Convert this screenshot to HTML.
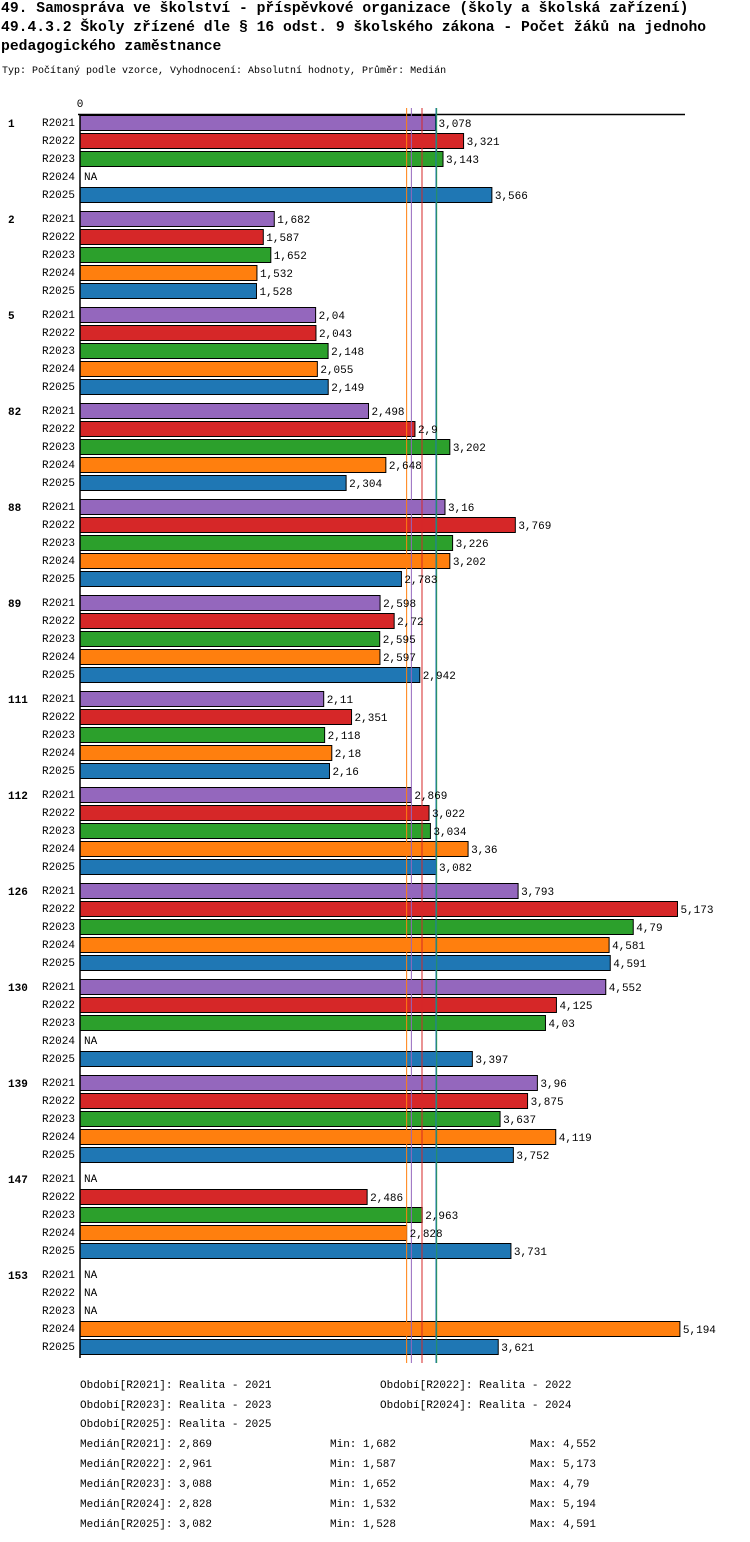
<!DOCTYPE html>
<html><head><meta charset="utf-8"><style>
body{margin:0;background:#fff;width:750px;height:1542px;overflow:hidden;font-family:"Liberation Mono","DejaVu Sans Mono",monospace;}
.t{position:absolute;left:1px;font-size:14.7px;font-weight:bold;line-height:19px;white-space:nowrap}
.s{position:absolute;left:2px;top:66px;font-size:10px}
svg text{font-family:"Liberation Mono","DejaVu Sans Mono",monospace;font-size:11px}
</style></head><body>
<div class="t" style="top:0">49. Samospráva ve školství - příspěvkové organizace (školy a školská zařízení)<br>49.4.3.2 Školy zřízené dle § 16 odst. 9 školského zákona - Počet žáků na jednoho<br>pedagogického zaměstnance</div>
<div class="s">Typ: Počítaný podle vzorce, Vyhodnocení: Absolutní hodnoty, Průměr: Medián</div>
<svg id="c" width="750" height="1542" style="position:absolute;left:0;top:0"></svg>
<script>
const groups=["1","2","5","82","88","89","111","112","126","130","139","147","153"];
const series=["R2021","R2022","R2023","R2024","R2025"];
const colors=["#9467bd","#d62728","#2ca02c","#ff7f0e","#1f77b4"];
const v2021=[3.078,1.682,2.04,2.498,3.16,2.598,2.11,2.869,3.793,4.552,3.96,null,null];
const v2022=[3.321,1.587,2.043,2.9,3.769,2.72,2.351,3.022,5.173,4.125,3.875,2.486,null];
const v2023=[3.143,1.652,2.148,3.202,3.226,2.595,2.118,3.034,4.79,4.03,3.637,2.963,null];
const v2024=[null,1.532,2.055,2.648,3.202,2.597,2.18,3.36,4.581,null,4.119,2.828,5.194];
const v2025=[3.566,1.528,2.149,2.304,2.783,2.942,2.16,3.082,4.591,3.397,3.752,3.731,3.621];
const medians=[2.869,2.961,3.088,2.828,3.082];
const mins=[1.682,1.587,1.652,1.532,1.528];
const maxs=[4.552,5.173,4.79,5.194,4.591];
const vals=[v2021,v2022,v2023,v2024,v2025];
const svg=document.getElementById('c');const NS='http://www.w3.org/2000/svg';
const x=v=>80+v*115.5;
const rowY=(g,i)=>115+g*96+i*18;
function mk(t,a,txt){const e=document.createElementNS(NS,t);for(const k in a)e.setAttribute(k,a[k]);if(txt!=null)e.textContent=txt;svg.appendChild(e);return e;}
const fmt=v=>String(v).replace('.',',');
let e;
e=mk('line',{x1:78,y1:114.5,x2:685,y2:114.5,stroke:'#000','stroke-width':1.5});


e=mk('text',{x:80,y:107,'text-anchor':'middle','font-size':10},'0');


groups.forEach((g,gi)=>{
 e=mk('text',{x:8,y:rowY(gi,0)+12,'font-weight':'bold'},g);
 
 
 series.forEach((s,si)=>{
  const y=rowY(gi,si);const v=vals[si][gi];
  e=mk('text',{x:75,y:y+11,'text-anchor':'end','font-size':10},s);
  
  
  if(v==null){e=mk('text',{x:84,y:y+11,'font-size':10},'NA');
   
   return;}
  e=mk('rect',{x:80,y:y+0.5,width:x(v)-80,height:15,fill:colors[si],stroke:'#000','stroke-width':1});
  
  
 });
});
e=mk('line',{x1:80,y1:114,x2:80,y2:1358,stroke:'#000','stroke-width':1.5});


[2,3,0,1,4].forEach(si=>{
 e=mk('line',{x1:x(medians[si]),y1:108,x2:x(medians[si]),y2:1363,stroke:colors[si],'stroke-width':1});
 
 
});
groups.forEach((g,gi)=>{series.forEach((s,si)=>{
  const y=rowY(gi,si);const v=vals[si][gi];if(v==null)return;
  e=mk('text',{x:x(v)+3,y:y+12,'font-size':10},fmt(v));
  
  
});});
const legend=[["Období[R2021]: Realita - 2021",80,1388],["Období[R2022]: Realita - 2022",380,1388],["Období[R2023]: Realita - 2023",80,1408],["Období[R2024]: Realita - 2024",380,1408],["Období[R2025]: Realita - 2025",80,1427]];
legend.forEach(l=>{e=mk('text',{x:l[1],y:l[2],'font-size':10},l[0]);
 
 });
series.forEach((s,si)=>{const y=1447+si*20;
 e=mk('text',{x:80,y:y,'font-size':10},'Medián['+s+']: '+fmt(medians[si]));
 
 
 e=mk('text',{x:330,y:y,'font-size':10},'Min: '+fmt(mins[si]));
 
 
 e=mk('text',{x:530,y:y,'font-size':10},'Max: '+fmt(maxs[si]));
 
 
});
</script>
</body></html>
